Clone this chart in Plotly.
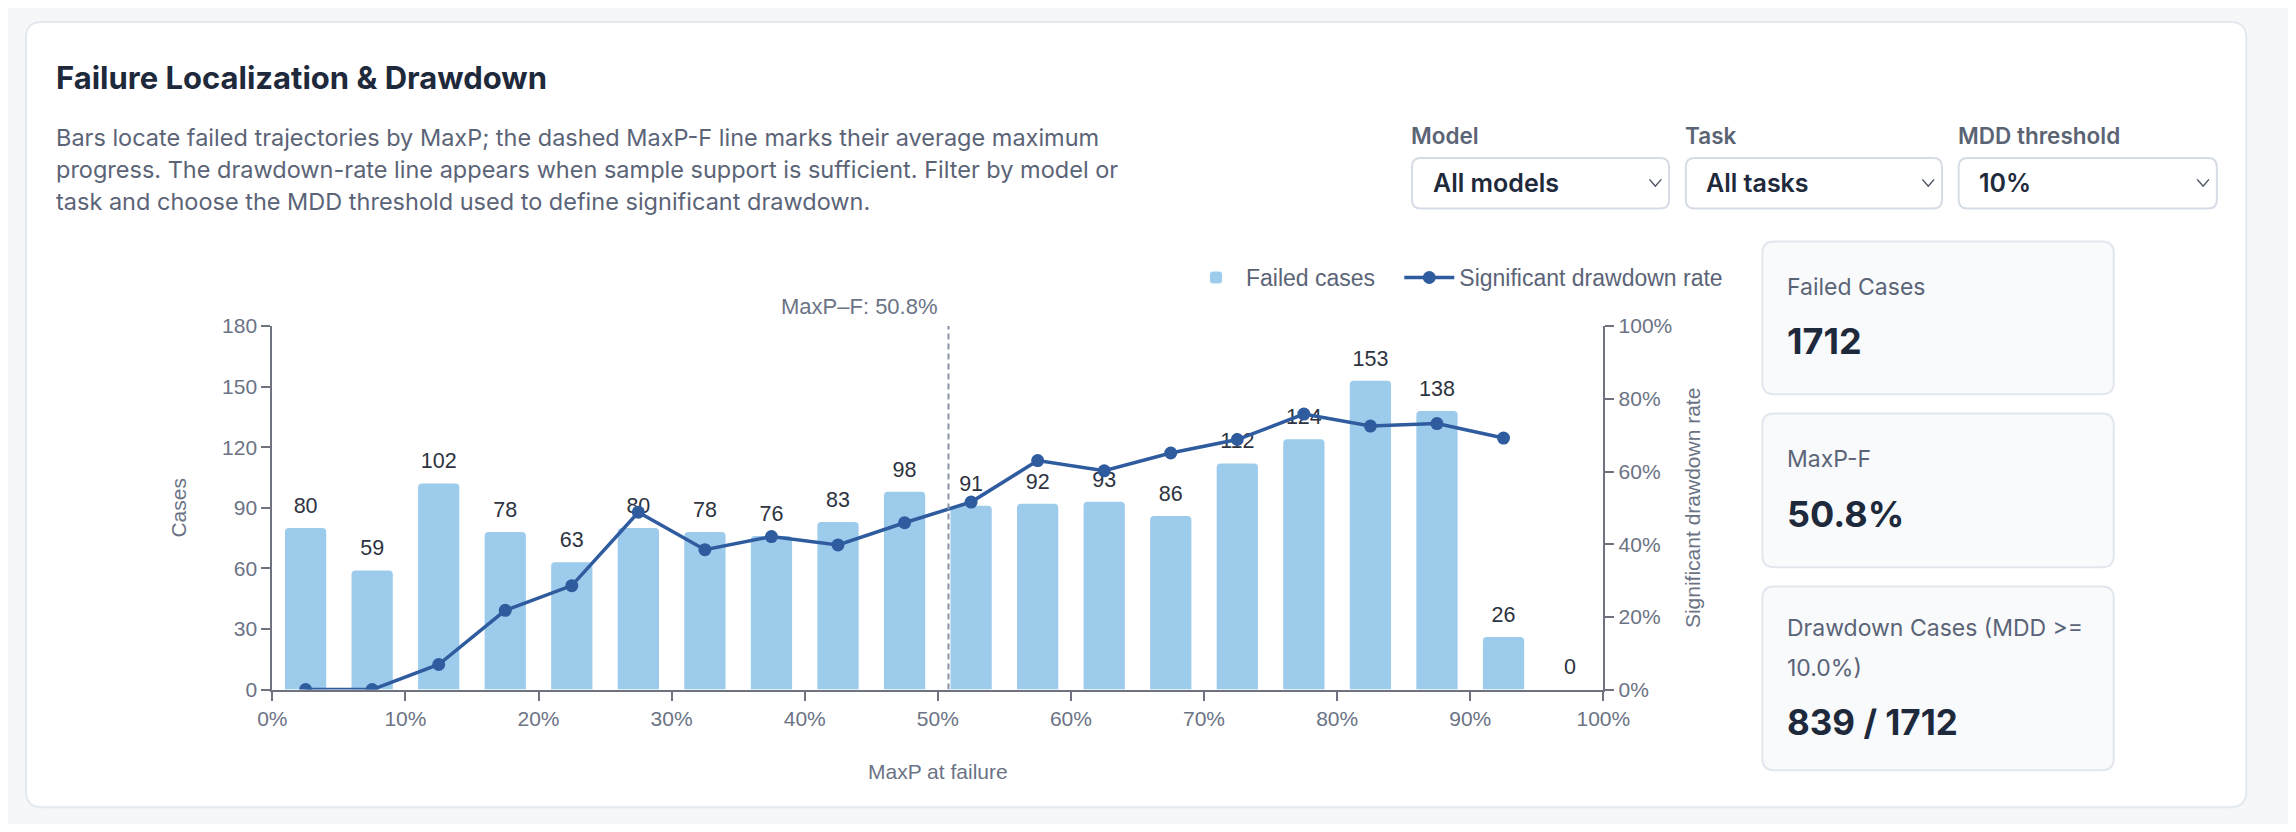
"""Failure localization & drawdown panel rebuilt as a single Plotly figure."""

import plotly.graph_objects as go

# page is 2296x832; the default 8px body margin surrounds the figure
PAGE_W, PAGE_H = 2296, 832
OFF = 8
W, H = PAGE_W - 2 * OFF, PAGE_H - 2 * OFF

# ---- data ----
bin_centers = [2.5, 7.5, 12.5, 17.5, 22.5, 27.5, 32.5, 37.5, 42.5, 47.5,
               52.5, 57.5, 62.5, 67.5, 72.5, 77.5, 82.5, 87.5, 92.5, 97.5]
failed_cases = [80, 59, 102, 78, 63, 80, 78, 76, 83, 98,
                91, 92, 93, 86, 112, 124, 153, 138, 26, 0]
drawdown_rate = [0.0, 0.0, 6.9, 21.8, 28.6, 48.8, 38.5, 42.1, 39.8, 45.9,
                 51.6, 63.0, 60.2, 65.1, 68.8, 75.8, 72.5, 73.2, 69.2, None]
x_ticks = [0, 10, 20, 30, 40, 50, 60, 70, 80, 90, 100]
x_tick_labels = ["0%", "10%", "20%", "30%", "40%", "50%", "60%", "70%", "80%", "90%", "100%"]
case_ticks = [0, 30, 60, 90, 120, 150, 180]
rate_ticks = [0, 20, 40, 60, 80, 100]
rate_tick_labels = ["0%", "20%", "40%", "60%", "80%", "100%"]
maxp_f = 50.8
total_failed = 1712
drawdown_cases = 839
mdd_threshold = 10.0

description = [
    "Bars locate failed trajectories by MaxP; the dashed MaxP-F line marks their average maximum",
    "progress. The drawdown-rate line appears when sample support is sufficient. Filter by model or",
    "task and choose the MDD threshold used to define significant drawdown.",
]
controls = [("Model", "All models"), ("Task", "All tasks"), ("MDD threshold", "10%")]

# ---- styling ----
PAGE_FONT = "Inter, 'Noto Sans', sans-serif"
CHART_FONT = "'Liberation Sans', Arial, sans-serif"
BAR_COLOR = "#9dcbec"
LINE_COLOR = "#2f5b9f"
AXIS_COLOR = "#6e737f"
TICK_TEXT = "#6b7385"
DARK = "#1e293b"
MUTED = "#5b6477"


def px(x):
    """page pixel -> paper x"""
    return (x - OFF) / W


def py(y):
    """page pixel -> paper y"""
    return 1 - (y - OFF) / H


def rounded_rect(x0, y0, x1, y1, r):
    """SVG path (paper coords) for a rounded box given in page pixels."""
    return (
        f"M {px(x0 + r)},{py(y0)} L {px(x1 - r)},{py(y0)} "
        f"Q {px(x1)},{py(y0)} {px(x1)},{py(y0 + r)} "
        f"L {px(x1)},{py(y1 - r)} Q {px(x1)},{py(y1)} {px(x1 - r)},{py(y1)} "
        f"L {px(x0 + r)},{py(y1)} Q {px(x0)},{py(y1)} {px(x0)},{py(y1 - r)} "
        f"L {px(x0)},{py(y0 + r)} Q {px(x0)},{py(y0)} {px(x0 + r)},{py(y0)} Z"
    )


fig = go.Figure()

fig.add_trace(
    go.Bar(
        x=bin_centers,
        y=failed_cases,
        width=3.1,
        # trailing spaces widen the first legend item like the reference gap
        name="Failed cases&nbsp;&nbsp;&nbsp;",
        marker=dict(color=BAR_COLOR, cornerradius=4, line=dict(width=0)),
        hoverinfo="skip",
    )
)
fig.add_trace(
    go.Scatter(
        x=bin_centers,
        y=failed_cases,
        mode="markers+text",
        text=[str(v) for v in failed_cases],
        textposition="top center",
        textfont=dict(family=CHART_FONT, size=21.5, color="#2d3340"),
        marker=dict(size=14, opacity=0),
        showlegend=False,
        hoverinfo="skip",
    )
)
fig.add_trace(
    go.Scatter(
        x=bin_centers,
        y=drawdown_rate,
        yaxis="y2",
        mode="lines+markers",
        name="Significant drawdown rate",
        line=dict(color=LINE_COLOR, width=3.5),
        marker=dict(color=LINE_COLOR, size=13),
        connectgaps=False,
        hoverinfo="skip",
    )
)

# ---- page furniture ----
shapes = [
    dict(type="path", path=rounded_rect(11, 10, 2273, 818, 16), xref="paper", yref="paper",
         fillcolor="white", line=dict(color="#e4e8ef", width=2), layer="below"),
]

card_boxes = [(236, 393), (413, 571), (591, 780)]
for top, bottom in card_boxes:
    shapes.append(
        dict(type="path", path=rounded_rect(1780, top, 2138, bottom, 12), xref="paper", yref="paper",
             fillcolor="#f8fafc", line=dict(color="#e2e7ef", width=2), layer="below")
    )

control_x = [(1423, 1685), (1702, 1963), (1980, 2243)]
for x0, x1 in control_x:
    shapes.append(
        dict(type="path", path=rounded_rect(x0, 150, x1, 202, 9), xref="paper", yref="paper",
             fillcolor="white", line=dict(color="#d6dce6", width=2), layer="below")
    )
    cx = x1 - 14
    shapes.append(
        dict(type="path",
             path=f"M {px(cx - 6)},{py(172)} L {px(cx)},{py(179)} L {px(cx + 6)},{py(172)}",
             xref="paper", yref="paper", line=dict(color="#4b5563", width=1.5))
    )

# average MaxP of failed runs
shapes.append(
    dict(type="line", xref="x", yref="y", x0=maxp_f, x1=maxp_f, y0=0, y1=180,
         line=dict(color="#8a93a5", width=2, dash="6px,4px"))
)

annotations = [
    dict(x=maxp_f, y=180, xref="x", yref="y", text=f"MaxP\u2013F: {maxp_f:.1f}%",
         showarrow=False, xanchor="right", yanchor="bottom", xshift=-8, yshift=5,
         font=dict(family=CHART_FONT, size=22, color=TICK_TEXT)),
]


def label(x, y, s, size, color, weight=400, family=PAGE_FONT):
    annotations.append(
        dict(x=px(x), y=py(y), xref="paper", yref="paper", text=s, showarrow=False,
             xanchor="left", yanchor="middle",
             font=dict(family=family, size=size, color=color, weight=weight))
    )


label(40, 67, "Failure Localization &amp; Drawdown", 31, DARK, 700)
for i, line in enumerate(description):
    label(40, 129 + 33 * i, line, 23.5, MUTED)

for (x0, _), (name, value) in zip(control_x, controls):
    label(x0 - 3, 127, name, 22.5, "#5b6474", 600)
    label(x0 + 19, 176, value, 25, DARK, 600)

label(1803, 283, "Failed Cases", 23, MUTED)
label(1803, 338, f"{total_failed}", 36, DARK, 700)
label(1803, 460, "MaxP-F", 23, MUTED)
label(1803, 516, f"{maxp_f:.1f}%", 36, DARK, 700)
label(1803, 634, "Drawdown Cases (MDD &gt;=", 23, MUTED)
label(1803, 675, f"{mdd_threshold:.1f}%)", 23, MUTED)
label(1803, 730, f"{drawdown_cases} / {total_failed}", 35, DARK, 700)

axis_common = dict(
    showline=True, linecolor=AXIS_COLOR, linewidth=2, ticks="outside", ticklen=9,
    tickwidth=2, tickcolor=AXIS_COLOR, showgrid=False, zeroline=False,
    tickfont=dict(family=CHART_FONT, size=21, color=TICK_TEXT),
)

fig.update_layout(
    width=W,
    height=H,
    margin=dict(l=0, r=0, t=0, b=0),
    paper_bgcolor="#f6f7f9",
    plot_bgcolor="white",
    font=dict(family=CHART_FONT, color=TICK_TEXT),
    shapes=shapes,
    annotations=annotations,
    xaxis=dict(
        domain=[px(262), px(1618)], range=[0, 100], tickvals=x_ticks, ticktext=x_tick_labels,
        title=dict(text="MaxP at failure", standoff=36,
                   font=dict(family=CHART_FONT, size=21, color=TICK_TEXT)),
        **axis_common,
    ),
    yaxis=dict(
        domain=[py(697), py(323)], range=[0, 180], tickvals=case_ticks,
        title=dict(text="Cases", standoff=30,
                   font=dict(family=CHART_FONT, size=21, color=TICK_TEXT)),
        **axis_common,
    ),
    yaxis2=dict(
        overlaying="y", side="right", range=[0, 100], tickvals=rate_ticks,
        ticktext=rate_tick_labels,
        title=dict(text="Significant drawdown rate", standoff=14,
                   font=dict(family=CHART_FONT, size=21, color=TICK_TEXT)),
        **axis_common,
    ),
    legend=dict(
        orientation="h", x=px(1745), xanchor="right", y=py(273), yanchor="middle",
        font=dict(family=CHART_FONT, size=23, color=MUTED), itemwidth=50,
        bgcolor="rgba(0,0,0,0)",
    ),
    hovermode=False,
)

fig.write_html("out.html", config={"displayModeBar": False})
